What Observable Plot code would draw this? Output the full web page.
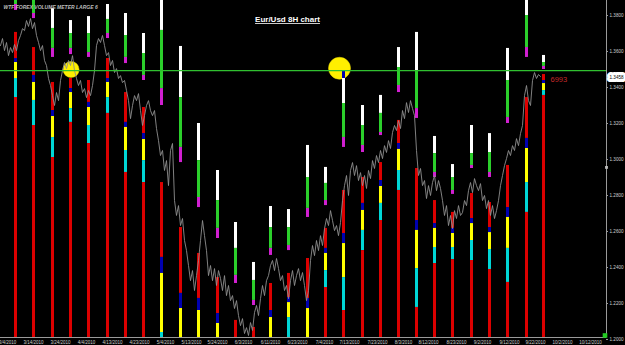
<!DOCTYPE html>
<html><head><meta charset="utf-8">
<script src="https://cdn.jsdelivr.net/npm/d3@7"></script>
<script src="https://cdn.jsdelivr.net/npm/@observablehq/plot@0.6"></script>
<style>html,body{margin:0;padding:0;background:#000;overflow:hidden;}</style>
</head><body><div id="chart"></div>
<script>
// ---- data ----
const chartTitle = "Eur/Usd 8H chart";
const indicatorName = "WTF FOREX VOLUME METER LARGE 6";
const lastPrice = 1.3458;
const lastVolume = "6993";
const levelLine = 1.3494;

// 8H closes (one sample every ~2 bars)
const closes = [1.3633,1.3672,1.3605,1.3650,1.3577,1.3622,1.3594,1.3639,1.3605,1.3661,1.3689,1.3727,1.3716,1.3772,1.3739,1.3783,1.3727,1.3761,1.3689,1.3650,
1.3605,1.3633,1.3550,1.3522,1.3450,1.3411,1.3355,1.3300,1.3372,1.3327,1.3439,1.3494,1.3539,1.3505,1.3550,1.3522,1.3577,1.3494,1.3450,1.3411,
1.3439,1.3372,1.3394,1.3344,1.3383,1.3355,1.3411,1.3494,1.3633,1.3672,1.3650,1.3689,1.3633,1.3577,1.3594,1.3522,1.3550,1.3483,1.3505,1.3450,
1.3466,1.3427,1.3439,1.3383,1.3327,1.3227,1.3300,1.3355,1.3327,1.3366,1.3272,1.3189,1.3244,1.3300,1.3327,1.3272,1.3244,1.3272,1.3172,1.3105,
1.3022,1.3050,1.2939,1.2994,1.2855,1.3050,1.3089,1.2772,1.2689,1.2744,1.2633,1.2672,1.2550,1.2494,1.2411,1.2327,1.2383,1.2272,1.2355,1.2439,
1.2550,1.2661,1.2577,1.2494,1.2355,1.2411,1.2327,1.2394,1.2300,1.2383,1.2339,1.2272,1.2355,1.2244,1.2300,1.2216,1.2244,1.2172,1.2216,1.2133,
1.2077,1.2116,1.2033,1.2066,1.2022,1.2094,1.2050,1.2150,1.2189,1.2133,1.2227,1.2300,1.2244,1.2327,1.2355,1.2411,1.2439,1.2383,1.2450,1.2394,
1.2327,1.2355,1.2272,1.2300,1.2227,1.2327,1.2383,1.2300,1.2355,1.2394,1.2327,1.2372,1.2300,1.2216,1.2272,1.2439,1.2522,1.2466,1.2550,1.2494,
1.2577,1.2522,1.2616,1.2672,1.2633,1.2716,1.2661,1.2605,1.2633,1.2577,1.2650,1.2772,1.2855,1.2911,1.2800,1.2939,1.2983,1.2911,1.2966,1.2883,
1.2927,1.2855,1.2911,1.2839,1.2939,1.2894,1.2994,1.2950,1.3022,1.2983,1.3050,1.3005,1.3077,1.3039,1.3105,1.3061,1.3150,1.3189,1.3161,1.3216,
1.3172,1.3272,1.3227,1.3316,1.3261,1.3327,1.3283,1.3244,1.3050,1.2911,1.2950,1.2855,1.2883,1.2783,1.2855,1.2800,1.2872,1.2911,1.2827,1.2883,
1.2839,1.2772,1.2689,1.2744,1.2633,1.2689,1.2616,1.2716,1.2672,1.2744,1.2689,1.2705,1.2772,1.2744,1.2827,1.2872,1.2816,1.2894,1.2855,1.2827,
1.2866,1.2772,1.2800,1.2727,1.2772,1.2689,1.2744,1.2672,1.2716,1.2772,1.2855,1.2911,1.2966,1.3005,1.3050,1.3022,1.3077,1.3050,1.3116,1.3077,
1.3144,1.3189,1.3355,1.3411,1.3327,1.3300,1.3439,1.3483,1.3450,1.3472,1.3461];

// weekly volume-meter columns (x in samples)
const columnPos = [7.5,16.5,26,35,44,53.5,62.5,71.5,80.5,90,99,108.5,117.5,126.5,135,144,153.5,162.5,171.5,181,190,199,208,217,226,235.5,244.5,253.5,263,271.5];
// upper meter (prices)
const whiteTop   = [1.3911,1.3911,1.3839,1.3772,1.3794,1.3861,1.3811,1.3700,1.3911,1.3628,1.3200,1.2939,1.2650,1.2428,1.2739,1.2722,1.3078,1.2956,1.3450,1.3300,1.3356,1.3622,1.3706,1.3128,1.2972,1.3189,1.3144,1.3617,1.3911,1.3578];
const greenTop   = [1.3911,1.3911,1.3728,1.3700,1.3700,1.3778,1.3689,1.3589,1.3717,1.3344,1.2994,1.2772,1.2506,1.2328,1.2622,1.2622,1.2900,1.2867,1.3311,1.3189,1.3256,1.3511,1.3494,1.3033,1.2900,1.3033,1.3039,1.3439,1.3800,1.3539];
const magentaTop = [1.3861,1.3811,1.3617,1.3617,1.3594,1.3700,1.3567,1.3467,1.3394,1.3067,1.2789,1.2617,1.2356,1.2217,1.2506,1.2522,1.2728,1.2772,1.3122,1.3078,1.3150,1.3411,1.3283,1.2928,1.2828,1.2967,1.2928,1.3233,1.3622,1.3517];
const magentaBot = [1.3828,1.3783,1.3567,1.3583,1.3567,1.3672,1.3533,1.3439,1.3300,1.2983,1.2733,1.2561,1.2311,1.2189,1.2467,1.2494,1.2678,1.2744,1.3067,1.3039,1.3133,1.3372,1.3228,1.2900,1.2806,1.2950,1.2900,1.3200,1.3567,1.3500];
// lower meter (prices)
const redTop    = [1.3706,1.3622,1.3428,1.3450,1.3439,1.3561,1.3372,1.3289,1.2872,1.2622,1.2478,1.2344,1.2106,1.2067,1.2311,1.2367,1.2450,1.2617,1.2828,1.2900,1.2983,1.3217,1.2950,1.2772,1.2706,1.2811,1.2761,1.2967,1.3344,1.3472];
const blueTop   = [1.3561,1.3467,1.3272,1.3394,1.3317,1.3450,1.3206,1.3144,1.2456,1.2256,1.2228,1.2144,1.2106,1.2067,1.2161,1.2233,1.2228,1.2506,1.2589,1.2756,1.2883,1.3089,1.2661,1.2644,1.2617,1.2672,1.2622,1.2733,1.3117,1.3439];
const yellowTop = [1.3539,1.3428,1.3239,1.3372,1.3289,1.3428,1.3178,1.3111,1.2367,1.2172,1.2161,1.2089,1.2106,1.2067,1.2122,1.2205,1.2172,1.2478,1.2533,1.2717,1.2850,1.3056,1.2606,1.2617,1.2589,1.2644,1.2594,1.2678,1.3061,1.3422];
const cyanTop   = [1.3450,1.3328,1.3122,1.3283,1.3189,1.3344,1.3050,1.2994,1.2039,1.1967,1.1967,1.1967,1.2106,1.2067,1.1967,1.2122,1.1967,1.2383,1.2344,1.2606,1.2756,1.2939,1.2394,1.2511,1.2511,1.2550,1.2500,1.2506,1.2872,1.3383];
const cyanBot   = [1.3344,1.3189,1.3011,1.3206,1.3089,1.3256,1.2928,1.2872,1.1967,1.1967,1.1967,1.1967,1.2106,1.2067,1.1967,1.1967,1.1967,1.2289,1.2161,1.2494,1.2661,1.2828,1.2178,1.2422,1.2444,1.2439,1.2389,1.2317,1.2706,1.3356];
const navyCaps = [{col: 18, top: 1.3494, bottom: 1.3450}];
const floorPrice = 1.19;

const highlights = [{x: 35.3, y: 1.3500, r: 8}, {x: 169.5, y: 1.3507, r: 11}];

const priceTicks = [1.38,1.36,1.34,1.32,1.30,1.28,1.26,1.24,1.22,1.20];
const dateLabels = ["3/4/2010","3/14/2010","3/24/2010","4/4/2010","4/13/2010","4/23/2010","5/4/2010","5/13/2010","5/24/2010","6/3/2010","6/11/2010","6/23/2010","7/4/2010","7/13/2010","7/23/2010","8/3/2010","8/12/2010","8/23/2010","9/2/2010","9/12/2010","9/22/2010","10/2/2010","10/12/2010"];
const datePos = [3.5,16.5,30,43,56,69.5,82.5,95.5,108.5,121.5,135,148.5,162,174.5,188.5,201.5,214,228,241,254.5,267.5,281,295];

const xMax = 303, yMin = 1.201111, yMax = 1.388333;

// ---- build segments ----
const C = {white:"#ffffff", green:"#2bcf2b", magenta:"#d11fd1", red:"#dc0000", blue:"#0000b0", yellow:"#ffff00", cyan:"#00d6d6"};
const segs = [];
columnPos.forEach((x, i) => {
  const parts = [
    [whiteTop[i], greenTop[i], C.white],
    [greenTop[i], magentaTop[i], C.green],
    [magentaTop[i], magentaBot[i], C.magenta],
    [redTop[i], blueTop[i], C.red],
    [blueTop[i], yellowTop[i], C.blue],
    [yellowTop[i], cyanTop[i], C.yellow],
    [cyanTop[i], cyanBot[i], C.cyan],
    [cyanBot[i], floorPrice, C.red]
  ];
  for (const [a, b, c] of parts) if (a !== b) segs.push({x, y1: a, y2: b, color: c});
});
navyCaps.forEach(n => segs.push({x: columnPos[n.col], y1: n.top, y2: n.bottom, color: C.blue}));

const font = "Liberation Sans, Arial, sans-serif";

const chart = Plot.plot({
  width: 625, height: 345,
  marginLeft: 0, marginRight: 19, marginTop: 0, marginBottom: 8,
  style: {background: "#000", fontFamily: font},
  x: {domain: [0, xMax], axis: null},
  y: {domain: [yMin, yMax], axis: null},
  color: {type: "identity"},
  marks: [
    ...highlights.map(h => Plot.dot([h], {x: "x", y: "y", r: h.r, fill: "#ffef00", stroke: "#e8d800", strokeWidth: 0.5})),
    Plot.ruleX(segs, {x: "x", y1: "y1", y2: "y2", stroke: "color", strokeWidth: 3, clip: true}),
    Plot.line(closes, {x: (d, i) => i, y: d => d, stroke: "#8e8e8e", strokeWidth: 0.9, clip: true}),
    Plot.ruleY([levelLine], {stroke: "#30c030", strokeWidth: 1.2}),
    // axes
    Plot.ruleY([yMin], {stroke: "#9a9a9a", strokeWidth: 1}),
    Plot.ruleX([xMax], {stroke: "#9a9a9a", strokeWidth: 1}),
    Plot.ruleY(priceTicks, {x1: xMax, x2: xMax + 1, stroke: "#9a9a9a"}),
    Plot.text(priceTicks, {x: xMax, y: d => d, dx: 3, text: d => d.toFixed(4), textAnchor: "start", fontSize: 4.6, fill: "#cfcfcf"}),
    Plot.text([lastPrice], {x: xMax, y: d => d, dx: 3, text: d => d.toFixed(4), textAnchor: "start", fontSize: 4.6, fill: "#000", stroke: "#fff", strokeWidth: 6, paintOrder: "stroke"}),
    Plot.text(dateLabels, {x: (d, i) => datePos[i], y: yMin, dy: 5, text: d => d, fontSize: 4.5, fill: "#cfcfcf"}),
    Plot.dot([0], {x: xMax, y: 1.2956, symbol: "square", r: 1.6, fill: "#bbbbbb"}),
    Plot.dot([0], {frameAnchor: "bottom-right", dx: -1.5, dy: -2, symbol: "square", r: 2.6, fill: "#22cc22"}),
    // annotations
    Plot.text([lastVolume], {x: columnPos[29], y: 1.3444, dx: 7, text: d => d, textAnchor: "start", fontSize: 7.5, fill: "#c42a2a"}),
    Plot.text([chartTitle], {frameAnchor: "top", dx: -16, dy: 16, text: d => d, fontSize: 8, fontWeight: "bold", fill: "#ffffff"}),
    Plot.text([indicatorName], {frameAnchor: "top-left", dx: 3, dy: 5, text: d => d, textAnchor: "start", fontSize: 5, fontWeight: "bold", fontStyle: "italic", fill: "#bdbdbd"})
  ]
});
chart.querySelectorAll("text").forEach(t => { if (t.textContent === chartTitle) t.setAttribute("text-decoration", "underline"); });
document.getElementById("chart").appendChild(chart);
</script>
</body></html>
